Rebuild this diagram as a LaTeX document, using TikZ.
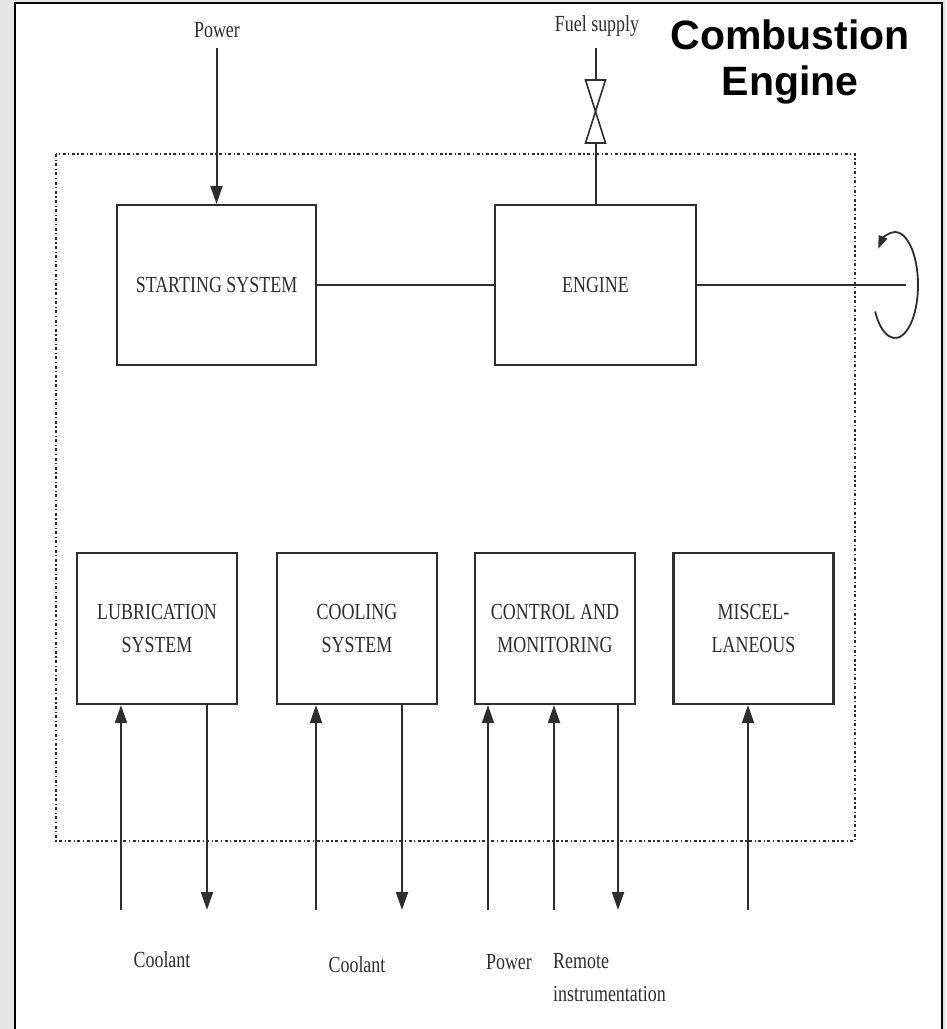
\documentclass[tikz,border=0pt]{standalone}
\usepackage{fontspec}
\setmainfont{Liberation Serif}
\newfontfamily\diagfont[FakeStretch=0.78]{Liberation Serif}
\newfontfamily\titlefont{Liberation Sans}
\usetikzlibrary{arrows.meta}
\definecolor{ink}{HTML}{2E2E2E}
\begin{document}
\begin{tikzpicture}[x=1pt,y=1pt,
  box/.style={draw=ink, line width=2.2pt, align=center, inner sep=0pt,
    font=\diagfont\fontsize{23}{33}\selectfont, text=ink},
  lbl/.style={font=\diagfont\fontsize{23}{33}\selectfont, inner sep=0pt, text=ink},
  wire/.style={draw=ink, line width=2pt},
  arr/.style={draw=ink, line width=2pt, -{Triangle[length=18pt,width=12pt]}},
  boundary/.style={draw=ink, line width=1.7pt, dash pattern=on 3pt off 2.5pt on 1.2pt off 2.5pt}]
\useasboundingbox (0,0) rectangle (946,-1029);
\fill[gray!20] (0,0) rectangle (946,-1029);
\begin{scope}
\clip (0,0) rectangle (946,-1029);
\fill[white] (15,-3) rectangle (942,-1040);
\draw[black, line width=2.5pt] (15,-3) rectangle (942,-1040);
\end{scope}

% title
\node[font=\titlefont\bfseries\fontsize{41}{46}\selectfont, align=center, text=black] (title) at (790,-62) {Combustion\\Engine};

% system boundary
\draw[boundary] (56,-154) rectangle (855,-841);

% upper boxes
\node[box, minimum width=199pt, minimum height=160pt] (start) at (216.5,-285) {STARTING SYSTEM};
\node[box, minimum width=201pt, minimum height=160pt] (engine) at (595.5,-285) {ENGINE};

% lower boxes
\node[box, minimum width=160pt, minimum height=151pt] (lub) at (157,-628.5) {LUBRICATION\\SYSTEM};
\node[box, minimum width=160pt, minimum height=151pt] (cool) at (357,-628.5) {COOLING\\SYSTEM};
\node[box, minimum width=160pt, minimum height=151pt] (ctrl) at (555,-628.5) {CONTROL AND\\MONITORING};
\node[box, minimum width=160pt, minimum height=151pt] (misc) at (753.5,-628.5) {MISCEL-\\LANEOUS};

% top inputs
\node[lbl] (pwrtop) at (217,-30) {Power};
\coordinate (pwrstart) at (216.5,-48);
\draw[arr] (pwrstart) -- (start.north);

\node[lbl] (fuel) at (597,-26) {Fuel supply};
\coordinate (fuelstart) at (595.5,-48);
\coordinate (valvetop) at (595.5,-80);
\coordinate (valvemid) at (595.5,-111.5);
\coordinate (valvebot) at (595.5,-143);
\draw[wire] (fuelstart) -- (valvetop);
\draw[wire, line width=1.6pt, line join=miter] ([xshift=-10pt]valvetop) -- ([xshift=10pt]valvetop) -- (valvemid) -- cycle;
\draw[wire, line width=1.6pt, line join=miter] ([xshift=-10pt]valvebot) -- ([xshift=10pt]valvebot) -- (valvemid) -- cycle;
\draw[wire] (valvebot) -- (engine.north);

% shaft and rotation
\draw[wire] (start.east) -- (engine.west);
\coordinate (shaftend) at (906,-285);
\draw[wire] (engine.east) -- (shaftend);
\coordinate (rotstart) at (875.1,-311.5);
\draw[draw=ink, line width=1.8pt, -{Triangle[length=13pt,width=9pt]}] (rotstart) arc[start angle=210, end angle=497, x radius=23pt, y radius=53pt];

% bottom connectors
\coordinate (lubin) at (121,-910);
\coordinate (lubout) at (207,-910);
\coordinate (coolin) at (316,-910);
\coordinate (coolout) at (402,-910);
\coordinate (ctrlpwr) at (488,-910);
\coordinate (ctrlrem) at (554,-910);
\coordinate (ctrlout) at (618,-910);
\coordinate (miscin) at (748,-910);
\draw[arr] (lubin) -- (lubin |- lub.south);
\draw[arr] (lubout |- lub.south) -- (lubout);
\draw[arr] (coolin) -- (coolin |- cool.south);
\draw[arr] (coolout |- cool.south) -- (coolout);
\draw[arr] (ctrlpwr) -- (ctrlpwr |- ctrl.south);
\draw[arr] (ctrlrem) -- (ctrlrem |- ctrl.south);
\draw[arr] (ctrlout |- ctrl.south) -- (ctrlout);
\draw[arr] (miscin) -- (miscin |- misc.south);

% bottom labels
\node[lbl] (cool1) at (162,-960) {Coolant};
\node[lbl] (cool2) at (357,-965) {Coolant};
\node[lbl] (pwrbot) at (509,-962) {Power};
\node[lbl, align=left, anchor=west] (remote) at (553,-978) {Remote\\instrumentation};
\end{tikzpicture}
\end{document}
